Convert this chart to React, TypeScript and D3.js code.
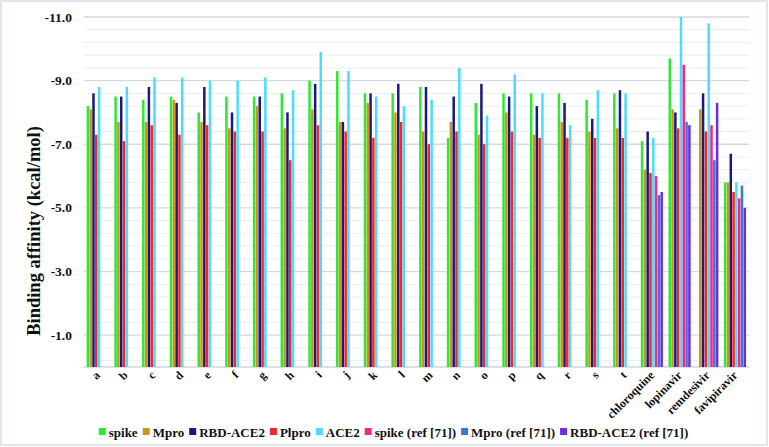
import React, { useEffect, useRef } from "react";
import * as d3 from "d3";

const categories = [
  "a", "b", "c", "d", "e", "f", "g", "h", "i", "j", "k", "l", "m", "n", "o", "p", "q", "r", "s", "t",
  "chloroquine", "lopinavir", "remdesivir", "favipiravir",
];

const seriesNames = [
  "spike", "Mpro", "RBD-ACE2", "Plpro", "ACE2",
  "spike (ref [71])", "Mpro (ref [71])", "RBD-ACE2 (ref [71])",
];
const seriesColors = [
  "#33e633", "#c8961e", "#1a1a7e", "#f02828", "#4cdcff",
  "#f0288c", "#3a78d0", "#6a2ee0",
];

const spike = [-8.2, -8.5, -8.4, -8.5, -8.0, -8.5, -8.5, -8.6, -9.0, -9.3, -8.6, -8.6, -8.8, -7.2, -8.3, -8.6, -8.6, -8.6, -8.4, -8.6, -7.1, -9.7, null, -5.8];
const mpro = [-8.1, -7.7, -7.7, -8.4, -7.7, -7.5, -8.2, -7.5, -8.1, -7.7, -8.3, -8.0, -7.4, -7.7, -7.3, -8.0, -7.3, -7.7, -7.4, -7.5, -6.2, -8.1, -8.1, -5.8];
const rbdAce2 = [-8.6, -8.5, -8.8, -8.3, -8.8, -8.0, -8.5, -8.0, -8.9, -7.7, -8.6, -8.9, -8.8, -8.5, -8.9, -8.5, -8.2, -8.3, -7.8, -8.7, -7.4, -8.0, -8.6, -6.7];
const plpro = [-7.3, -7.1, -7.6, -7.3, -7.6, -7.4, -7.4, -6.5, -7.6, -7.4, -7.2, -7.7, -7.0, -7.4, -7.0, -7.4, -7.2, -7.2, -7.2, -7.2, -6.1, -7.5, -7.4, -5.5];
const ace2 = [-8.8, -8.8, -9.1, -9.1, -9.0, -9.0, -9.1, -8.7, -9.9, -9.3, -8.5, -8.2, -8.4, -9.4, -7.9, -9.2, -8.6, -7.6, -8.7, -8.6, -7.2, -11.0, -10.8, -5.8];
const none20 = Array(20).fill(null);
const spikeRef = [...none20, -6.0, -9.5, -7.6, -5.3];
const mproRef = [...none20, -5.4, -7.7, -6.5, -5.7];
const rbdAce2Ref = [...none20, -5.5, -7.6, -8.3, -5.0];

const yTicks = [-11, -9, -7, -5, -3, -1];

const App = () => {
  const svgRef = useRef<SVGSVGElement>(null);

  useEffect(() => {
    const svg = d3.select(svgRef.current);
    svg.selectAll("*").remove();

    const width = 769;
    const height = 447;
    const margin = { top: 17, right: 20, bottom: 78, left: 84 };
    const font = "'Liberation Serif', 'Times New Roman', serif";

    const series = [spike, mpro, rbdAce2, plpro, ace2, spikeRef, mproRef, rbdAce2Ref];

    svg
      .append("rect")
      .attr("x", 1)
      .attr("y", 1)
      .attr("width", width - 3)
      .attr("height", height - 3)
      .attr("fill", "#fff")
      .attr("stroke", "#dfe5ea")
      .attr("stroke-width", 2);

    const y = d3.scaleLinear().domain([0, -11]).range([height - margin.bottom - 2, margin.top]);
    const x = d3
      .scaleBand()
      .domain(categories)
      .range([margin.left, width - margin.right])
      .paddingInner(0.19)
      .paddingOuter(0.095);
    const inner = d3
      .scaleBand()
      .domain(d3.range(series.length).map(String))
      .range([0, x.bandwidth()]);

    // gridlines every 0.4, darker at labelled ticks
    const grid = d3.range(0, 28).map((k) => -11 + 0.4 * k);
    svg
      .append("g")
      .selectAll("line")
      .data(grid)
      .join("line")
      .attr("x1", margin.left)
      .attr("x2", width - margin.right)
      .attr("y1", (d) => y(d))
      .attr("y2", (d) => y(d))
      .attr("stroke", (d, i) => (i % 5 === 0 ? "#d3d9e0" : "#e9edf1"))
      .attr("stroke-width", (d, i) => (i % 5 === 0 ? 1.3 : 1));

    svg
      .append("line")
      .attr("x1", margin.left)
      .attr("x2", width - margin.right)
      .attr("y1", y(0))
      .attr("y2", y(0))
      .attr("stroke", "#cfd6de")
      .attr("stroke-width", 1.5);

    series.forEach((vals, si) => {
      svg
        .append("g")
        .attr("fill", seriesColors[si])
        .selectAll("rect")
        .data(vals.map((v, i) => ({ v, c: categories[i] })).filter((d) => d.v !== null))
        .join("rect")
        .attr("x", (d) => x(d.c)! + inner(String(si))!)
        .attr("width", inner.bandwidth() - 0.3)
        .attr("y", (d) => y(d.v as number))
        .attr("height", (d) => y(0) - y(d.v as number));
    });

    svg
      .append("g")
      .selectAll("text")
      .data(yTicks)
      .join("text")
      .attr("x", 72)
      .attr("y", (d) => y(d) + 4.5)
      .attr("text-anchor", "end")
      .attr("font-family", font)
      .attr("font-weight", "bold")
      .attr("font-size", 13.5)
      .attr("fill", "#111")
      .text((d) => d.toFixed(1));

    svg
      .append("text")
      .attr("transform", "translate(34,231) rotate(-90)")
      .attr("text-anchor", "middle")
      .attr("dominant-baseline", "central")
      .attr("font-family", font)
      .attr("font-weight", "bold")
      .attr("font-size", 18.5)
      .attr("fill", "#111")
      .text("Binding affinity (kcal/mol)");

    svg
      .append("g")
      .selectAll("text")
      .data(categories)
      .join("text")
      .attr(
        "transform",
        (d) => `translate(${x(d)! + x.bandwidth() / 2 + 3},${y(0) + 9}) rotate(-45)`
      )
      .attr("text-anchor", "end")
      .attr("font-family", font)
      .attr("font-weight", "bold")
      .attr("font-size", 12)
      .attr("fill", "#111")
      .text((d) => d);

    // legend
    const legend = svg.append("g").attr("transform", `translate(0,${432})`);
    const items = legend
      .selectAll("g")
      .data(seriesNames)
      .join("g");
    items
      .append("rect")
      .attr("y", -4)
      .attr("width", 7)
      .attr("height", 7)
      .attr("fill", (d, i) => seriesColors[i]);
    items
      .append("text")
      .attr("x", 10)
      .attr("y", 4.5)
      .attr("font-family", font)
      .attr("font-weight", "bold")
      .attr("font-size", 13)
      .attr("fill", "#111")
      .text((d) => d);
    const widths: number[] = [];
    items.each(function () {
      const t = d3.select(this).select("text").node() as SVGTextElement;
      widths.push(10 + t.getComputedTextLength());
    });
    const gap = 5;
    const total = d3.sum(widths) + gap * (widths.length - 1);
    let cx = 393.5 - total / 2;
    items.attr("transform", (d, i) => {
      const tx = cx;
      cx += widths[i] + gap;
      return `translate(${tx},0)`;
    });
  }, []);

  return (
    <svg
      ref={svgRef}
      width={769}
      height={447}
      style={{ position: "absolute", left: 0, top: 0 }}
    />
  );
};

export default App;
